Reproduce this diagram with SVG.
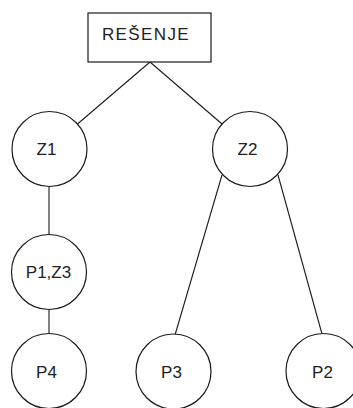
<svg xmlns="http://www.w3.org/2000/svg" width="353" height="408" viewBox="0 0 353 408">
  <style>
    .node circle, .node rect { fill: #fff; stroke: #1a1a1a; stroke-width: 1.2; }
    .node text { font-family: "Liberation Sans", Arial, sans-serif; font-size: 17px; fill: #222; text-anchor: middle; }
    #edges line { stroke: #1a1a1a; stroke-width: 1.1; }
  </style>
  <rect width="353" height="408" fill="#fff"/>
  <g id="edges">
    <line x1="150" y1="62" x2="77.5" y2="124"/>
    <line x1="150" y1="62" x2="222" y2="124"/>
    <line x1="49" y1="186.5" x2="49" y2="235"/>
    <line x1="49" y1="309.5" x2="49" y2="333.5"/>
    <line x1="222" y1="175" x2="175" y2="335"/>
    <line x1="278" y1="175" x2="322" y2="334"/>
  </g>
  <g id="resenje" class="node">
    <rect x="88" y="13" width="123" height="49"/>
    <text x="146" y="40" font-size="17.5" letter-spacing="1.4">REŠENJE</text>
  </g>
  <g id="z1" class="node">
    <circle cx="49.5" cy="149" r="37.5"/>
    <text x="46.5" y="155">Z1</text>
  </g>
  <g id="z2" class="node">
    <circle cx="250" cy="149" r="37.5"/>
    <text x="247.5" y="155">Z2</text>
  </g>
  <g id="p1z3" class="node">
    <circle cx="49" cy="272" r="37.5"/>
    <text x="48.5" y="278">P1,Z3</text>
  </g>
  <g id="p4" class="node">
    <circle cx="49" cy="371" r="37.5"/>
    <text x="46.5" y="378">P4</text>
  </g>
  <g id="p3" class="node">
    <circle cx="173.5" cy="371.5" r="37.5"/>
    <text x="171.5" y="378">P3</text>
  </g>
  <g id="p2" class="node">
    <circle cx="323.5" cy="371" r="37.5"/>
    <text x="322.5" y="378">P2</text>
  </g>
</svg>
